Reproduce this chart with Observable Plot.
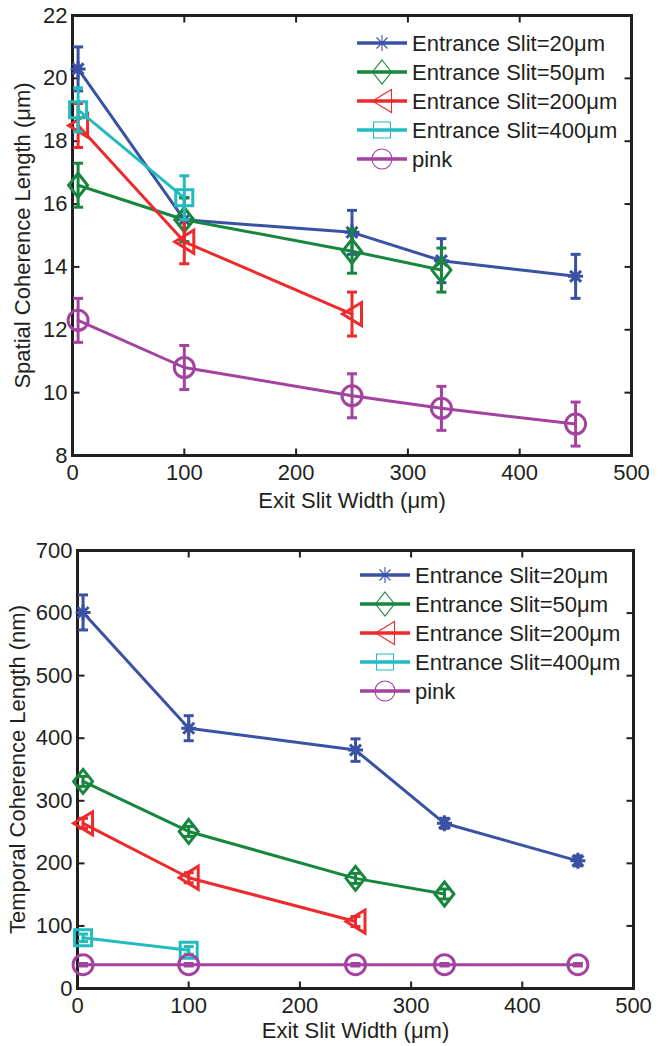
<!DOCTYPE html>
<html><head><meta charset="utf-8">
<script src="https://cdn.jsdelivr.net/npm/d3@7"></script>
<script src="https://cdn.jsdelivr.net/npm/@observablehq/plot@0.6"></script>
<style>
body{margin:0;background:#fff;}
.panel{position:relative;width:662px;}
.legend{position:absolute;left:0;top:0;pointer-events:none;}
</style></head><body>
<div id="top" class="panel"></div>
<div id="bottom" class="panel"></div>
<script>
// ---------- data ----------
const seriesNames = ["Entrance Slit=20μm", "Entrance Slit=50μm", "Entrance Slit=200μm", "Entrance Slit=400μm", "pink"];
const seriesColors = ["#3a52a4", "#17873d", "#ee2a2d", "#22bcbf", "#a3439f"];
const seriesSymbols = ["asterisk", "diamond", "triangleLeft", "square", "circle"];
const exitSlit = [5, 100, 250, 330, 450];

const xTicks = [0, 100, 200, 300, 400, 500];
const spatialTicks = [8, 10, 12, 14, 16, 18, 20, 22];
const temporalTicks = [0, 100, 200, 300, 400, 500, 600, 700];

// Spatial coherence length (μm)
const spatial20 = [20.3, 15.5, 15.1, 14.2, 13.7];
const spatial50 = [16.6, 15.5, 14.5, 13.9];
const spatial200 = [18.5, 14.8, 12.5];
const spatial400 = [19.0, 16.2];
const spatialPink = [12.3, 10.8, 9.9, 9.5, 9.0];
const spatialErr20 = [0.7, 0.7, 0.7, 0.7, 0.7];
const spatialErr50 = [0.7, 0.7, 0.7, 0.7];
const spatialErr200 = [0.7, 0.7, 0.7];
const spatialErr400 = [0.7, 0.7];
const spatialErrPink = [0.7, 0.7, 0.7, 0.7, 0.7];

// Temporal coherence length (nm)
const temporal20 = [601, 416, 381, 264, 204];
const temporal50 = [331, 251, 176, 151];
const temporal200 = [264, 177, 107];
const temporal400 = [81, 61];
const temporalPink = [38, 38, 38, 38, 38];
const temporalErr20 = [28, 20, 18, 8, 8];
const temporalErr50 = [8, 8, 8, 8];
const temporalErr200 = [8, 8, 8];
const temporalErr400 = [6, 6];
const temporalErrPink = [2, 2, 2, 2, 2];

// ---------- symbols ----------
const SYM = {
  asterisk: {draw(c){c.moveTo(-7.5,0);c.lineTo(7.5,0);c.moveTo(0,-8);c.lineTo(0,8);c.moveTo(-5.5,-5.5);c.lineTo(5.5,5.5);c.moveTo(-5.5,5.5);c.lineTo(5.5,-5.5);}},
  diamond: {draw(c){c.moveTo(0,-12);c.lineTo(9.5,0);c.lineTo(0,12);c.lineTo(-9.5,0);c.closePath();}},
  triangleLeft: {draw(c){c.moveTo(-9.5,0);c.lineTo(9.5,-11.5);c.lineTo(9.5,11.5);c.closePath();}},
  square: {draw(c){c.moveTo(-8.5,-8);c.lineTo(8.5,-8);c.lineTo(8.5,8);c.lineTo(-8.5,8);c.closePath();}},
  circle: {draw(c){c.moveTo(10,0);c.arc(0,0,10,0,2*Math.PI);c.closePath();}},
  cap: {draw(c){c.moveTo(-5,0);c.lineTo(5,0);}},
  tUp: {draw(c){c.moveTo(0,0);c.lineTo(0,-7);}},
  tDown: {draw(c){c.moveTo(0,0);c.lineTo(0,7);}},
  tRight: {draw(c){c.moveTo(0,0);c.lineTo(7,0);}},
  tLeft: {draw(c){c.moveTo(0,0);c.lineTo(-7,0);}}
};

const FONT = "'Liberation Sans', Arial, Helvetica, sans-serif";

function makeSeries(vals, errs) {
  return vals.map((arr, i) => arr.map((y, j) => ({x: exitSlit[j], y, e: errs[i][j], s: i})));
}

function makePanel(el, opts) {
  const series = makeSeries(opts.values, opts.errs);
  const marks = [
    Plot.frame({stroke: "#231f20", strokeWidth: 3}),
    Plot.axisX({ticks: xTicks, tickSize: 0, tickPadding: 9, fontSize: 22, label: null, tickFormat: d => String(d)}),
    Plot.axisY({ticks: opts.yTicks, tickSize: 0, tickPadding: 5, fontSize: 22, label: null, tickFormat: d => String(d)}),
    Plot.dot(xTicks.slice(1, -1), {x: d => d, frameAnchor: "bottom", symbol: SYM.tUp, stroke: "#231f20", strokeWidth: 2}),
    Plot.dot(xTicks.slice(1, -1), {x: d => d, frameAnchor: "top", symbol: SYM.tDown, stroke: "#231f20", strokeWidth: 2}),
    Plot.dot(opts.yTicks.slice(1, -1), {y: d => d, frameAnchor: "left", symbol: SYM.tRight, stroke: "#231f20", strokeWidth: 2}),
    Plot.dot(opts.yTicks.slice(1, -1), {y: d => d, frameAnchor: "right", symbol: SYM.tLeft, stroke: "#231f20", strokeWidth: 2}),
    Plot.text([opts.yTitle], {frameAnchor: "left", textAnchor: "middle", rotate: -90, dx: opts.yTitleDx, fontSize: 22, fill: "#231f20", lineAnchor: "middle"}),
    Plot.text(["Exit Slit Width (μm)"], {frameAnchor: "bottom", textAnchor: "middle", dy: opts.xTitleDy, fontSize: 22, fill: "#231f20", lineAnchor: "middle"})
  ];
  series.forEach((data, i) => {
    const col = seriesColors[i];
    marks.push(
      Plot.line(data, {x: "x", y: "y", stroke: col, strokeWidth: 3}),
      Plot.ruleX(data, {x: "x", y1: d => d.y - d.e, y2: d => d.y + d.e, stroke: col, strokeWidth: 3}),
      Plot.dot(data, {x: "x", y: d => d.y - d.e, symbol: SYM.cap, stroke: col, strokeWidth: 3}),
      Plot.dot(data, {x: "x", y: d => d.y + d.e, symbol: SYM.cap, stroke: col, strokeWidth: 3}),
      Plot.dot(data, {x: "x", y: "y", symbol: SYM[seriesSymbols[i]], stroke: col, strokeWidth: 3, fill: "none"})
    );
  });
  const chart = Plot.plot({
    width: 662,
    height: opts.height,
    marginTop: opts.mt, marginBottom: opts.mb, marginLeft: opts.ml, marginRight: opts.mr,
    x: {domain: [0, 500]},
    y: {domain: opts.yDomain},
    style: {fontFamily: FONT, fontSize: "22px", color: "#231f20", background: "#fff", overflow: "visible"},
    marks
  });
  el.appendChild(chart);

  // legend overlay
  const lg = d3.select(el).append("svg").attr("class", "legend").attr("width", 662).attr("height", opts.height)
    .style("font-family", FONT);
  seriesNames.forEach((name, i) => {
    const cy = opts.legY + i * opts.legStep;
    const g = lg.append("g");
    g.append("line").attr("x1", opts.legX).attr("x2", opts.legX + 50).attr("y1", cy).attr("y2", cy)
      .attr("stroke", seriesColors[i]).attr("stroke-width", 3.5);
    const p = d3.path();
    SYM[seriesSymbols[i]].draw(p);
    g.append("path").attr("d", p.toString()).attr("transform", `translate(${opts.legX + 25},${cy})`)
      .attr("fill", "none").attr("stroke", seriesColors[i]).attr("stroke-width", 1.1);
    g.append("text").attr("x", opts.legX + 55).attr("y", cy).attr("dy", "0.36em")
      .attr("font-size", 22).attr("fill", "#231f20").text(name);
  });
}

makePanel(document.getElementById("top"), {
  values: [spatial20, spatial50, spatial200, spatial400, spatialPink],
  errs: [spatialErr20, spatialErr50, spatialErr200, spatialErr400, spatialErrPink],
  yTicks: spatialTicks, yDomain: [8, 22],
  yTitle: "Spatial Coherence Length (μm)",
  height: 520, mt: 15, mb: 65, ml: 72, mr: 31,
  yTitleDx: -50, xTitleDy: 45,
  legX: 357, legY: 43, legStep: 29
});

makePanel(document.getElementById("bottom"), {
  values: [temporal20, temporal50, temporal200, temporal400, temporalPink],
  errs: [temporalErr20, temporalErr50, temporalErr200, temporalErr400, temporalErrPink],
  yTicks: temporalTicks, yDomain: [0, 700],
  yTitle: "Temporal Coherence Length (nm)",
  height: 526, mt: 30, mb: 58, ml: 77, mr: 29,
  yTitleDx: -60, xTitleDy: 42,
  legX: 360, legY: 55, legStep: 29
});
</script>
</body></html>
